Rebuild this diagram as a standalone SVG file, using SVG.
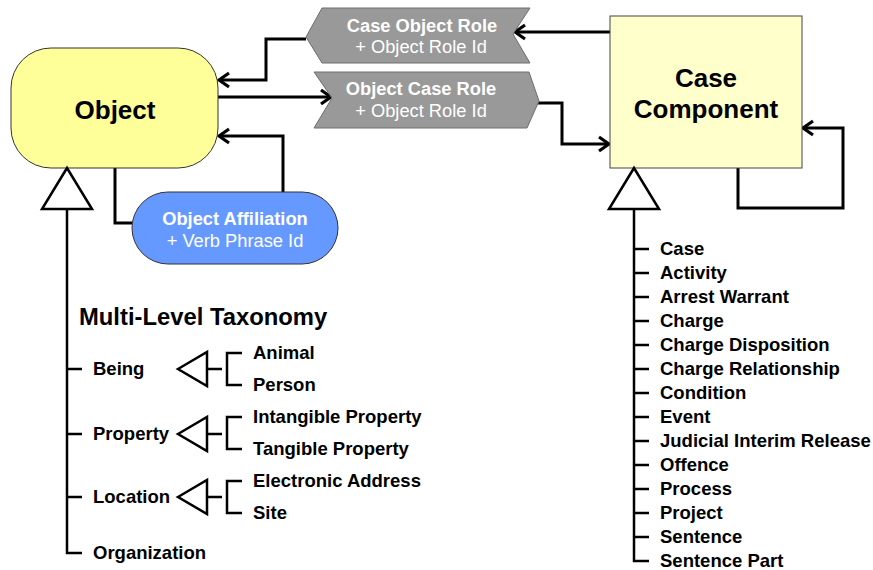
<svg xmlns="http://www.w3.org/2000/svg" width="873" height="570" viewBox="0 0 873 570">
  <style>
    text { font-family: "Liberation Sans", Arial, sans-serif; }
    .big { font-size: 26px; font-weight: bold; fill: #000; text-anchor: middle; }
    .lbl { font-size: 18.5px; font-weight: bold; fill: #000; }
    .wb { font-size: 18.3px; font-weight: bold; fill: #fff; text-anchor: middle; }
    .wr { font-size: 18.3px; fill: #fff; text-anchor: middle; }
    .title { font-size: 23.8px; font-weight: bold; fill: #000; }
    .conn { fill: none; stroke: #000; stroke-width: 3; stroke-linejoin: miter; }
    .tree { fill: none; stroke: #000; stroke-width: 2.5; }
    .tri { fill: #fff; stroke: #000; stroke-width: 2.5; stroke-linejoin: miter; }
    .role { fill: #999999; stroke: #6e6e6e; stroke-width: 1; }
  </style>
  <defs>
    <marker id="arrow" markerUnits="userSpaceOnUse" viewBox="0 0 14 18" refX="12" refY="9" markerWidth="14" markerHeight="18" orient="auto">
      <path d="M2,2 L12,9 L2,16" fill="none" stroke="#000" stroke-width="3.2"/>
    </marker>
  </defs>

  <rect width="873" height="570" fill="#fff"/>

  <!-- connectors -->
  <g id="connectors">
    <path class="conn" d="M610,32 H515" marker-end="url(#arrow)"/>
    <path class="conn" d="M306,39 H266 V80 H219" marker-end="url(#arrow)"/>
    <path class="conn" d="M218,97 H331" marker-end="url(#arrow)"/>
    <path class="conn" d="M538,103 H562 V144 H609" marker-end="url(#arrow)"/>
    <path class="conn" d="M738,168 V208 H843 V128 H803" marker-end="url(#arrow)"/>
    <path class="conn" d="M283,192 V136 H219" marker-end="url(#arrow)"/>
    <path class="conn" d="M115,168 V223 H132"/>
  </g>

  <!-- Object -->
  <g id="object">
    <rect x="11" y="48" width="207" height="120" rx="40" ry="40" fill="#FFFF99" stroke="#333" stroke-width="1"/>
    <text class="big" x="115" y="119">Object</text>
  </g>

  <!-- Case Component -->
  <g id="case-component">
    <rect x="610" y="16" width="192" height="152" fill="#FFFFCC" stroke="#444" stroke-width="1"/>
    <text class="big" x="706" y="87">Case</text>
    <text class="big" x="706" y="118">Component</text>
  </g>

  <!-- Case Object Role -->
  <g id="case-object-role">
    <polygon class="role" points="322,8 530,8 513,34 530,63 322,63 306,37"/>
    <text class="wb" x="422" y="32">Case Object Role</text>
    <text class="wr" x="421" y="53">+ Object Role Id</text>
  </g>

  <!-- Object Case Role -->
  <g id="object-case-role">
    <polygon class="role" points="314,72 529,72 539,101 527,128 314,128 332,98"/>
    <text class="wb" x="421" y="95">Object Case Role</text>
    <text class="wr" x="421" y="117">+ Object Role Id</text>
  </g>

  <!-- Object Affiliation -->
  <g id="object-affiliation">
    <rect x="132" y="192" width="206" height="72" rx="36" ry="36" fill="#6699FF" stroke="#333" stroke-width="1"/>
    <text class="wb" x="235" y="225">Object Affiliation</text>
    <text class="wr" x="235" y="247">+ Verb Phrase Id</text>
  </g>

  <!-- Object taxonomy -->
  <g id="object-taxonomy">
    <polygon class="tri" points="67,168 92,209 42,209"/>
    <path class="tree" d="M67,209 V553 H82 M67,369 H82 M67,434 H82 M67,497 H82"/>
    <text class="title" x="79" y="325">Multi-Level Taxonomy</text>
    <text class="lbl" x="93" y="375">Being</text>
    <text class="lbl" x="93" y="440">Property</text>
    <text class="lbl" x="93" y="503">Location</text>
    <text class="lbl" x="93" y="559">Organization</text>
  </g>

  <g id="being">
    <polygon class="tri" points="178,369 207,352 207,386"/>
    <path class="tree" d="M207,369 H222 M242,353 H227 V385 H242"/>
    <text class="lbl" x="253" y="359">Animal</text>
    <text class="lbl" x="253" y="391">Person</text>
  </g>

  <g id="property">
    <polygon class="tri" points="178,434 207,417 207,451"/>
    <path class="tree" d="M207,434 H222 M242,417 H227 V449 H242"/>
    <text class="lbl" x="253" y="423">Intangible Property</text>
    <text class="lbl" x="253" y="455">Tangible Property</text>
  </g>

  <g id="location">
    <polygon class="tri" points="178,497 207,480 207,514"/>
    <path class="tree" d="M207,497 H222 M242,481 H227 V513 H242"/>
    <text class="lbl" x="253" y="487">Electronic Address</text>
    <text class="lbl" x="253" y="519">Site</text>
  </g>

  <!-- Case Component subtypes -->
  <g id="case-component-subtypes">
    <polygon class="tri" points="634,168 659,209 609,209"/>
    <path class="tree" d="M634,209 V561 H649 M634,249 H649 M634,273 H649 M634,297 H649 M634,321 H649 M634,345 H649 M634,369 H649 M634,393 H649 M634,417 H649 M634,441 H649 M634,465 H649 M634,489 H649 M634,513 H649 M634,537 H649"/>
    <text class="lbl" x="660" y="255">Case</text>
    <text class="lbl" x="660" y="279">Activity</text>
    <text class="lbl" x="660" y="303">Arrest Warrant</text>
    <text class="lbl" x="660" y="327">Charge</text>
    <text class="lbl" x="660" y="351">Charge Disposition</text>
    <text class="lbl" x="660" y="375">Charge Relationship</text>
    <text class="lbl" x="660" y="399">Condition</text>
    <text class="lbl" x="660" y="423">Event</text>
    <text class="lbl" x="660" y="447">Judicial Interim Release</text>
    <text class="lbl" x="660" y="471">Offence</text>
    <text class="lbl" x="660" y="495">Process</text>
    <text class="lbl" x="660" y="519">Project</text>
    <text class="lbl" x="660" y="543">Sentence</text>
    <text class="lbl" x="660" y="567">Sentence Part</text>
  </g>
</svg>
